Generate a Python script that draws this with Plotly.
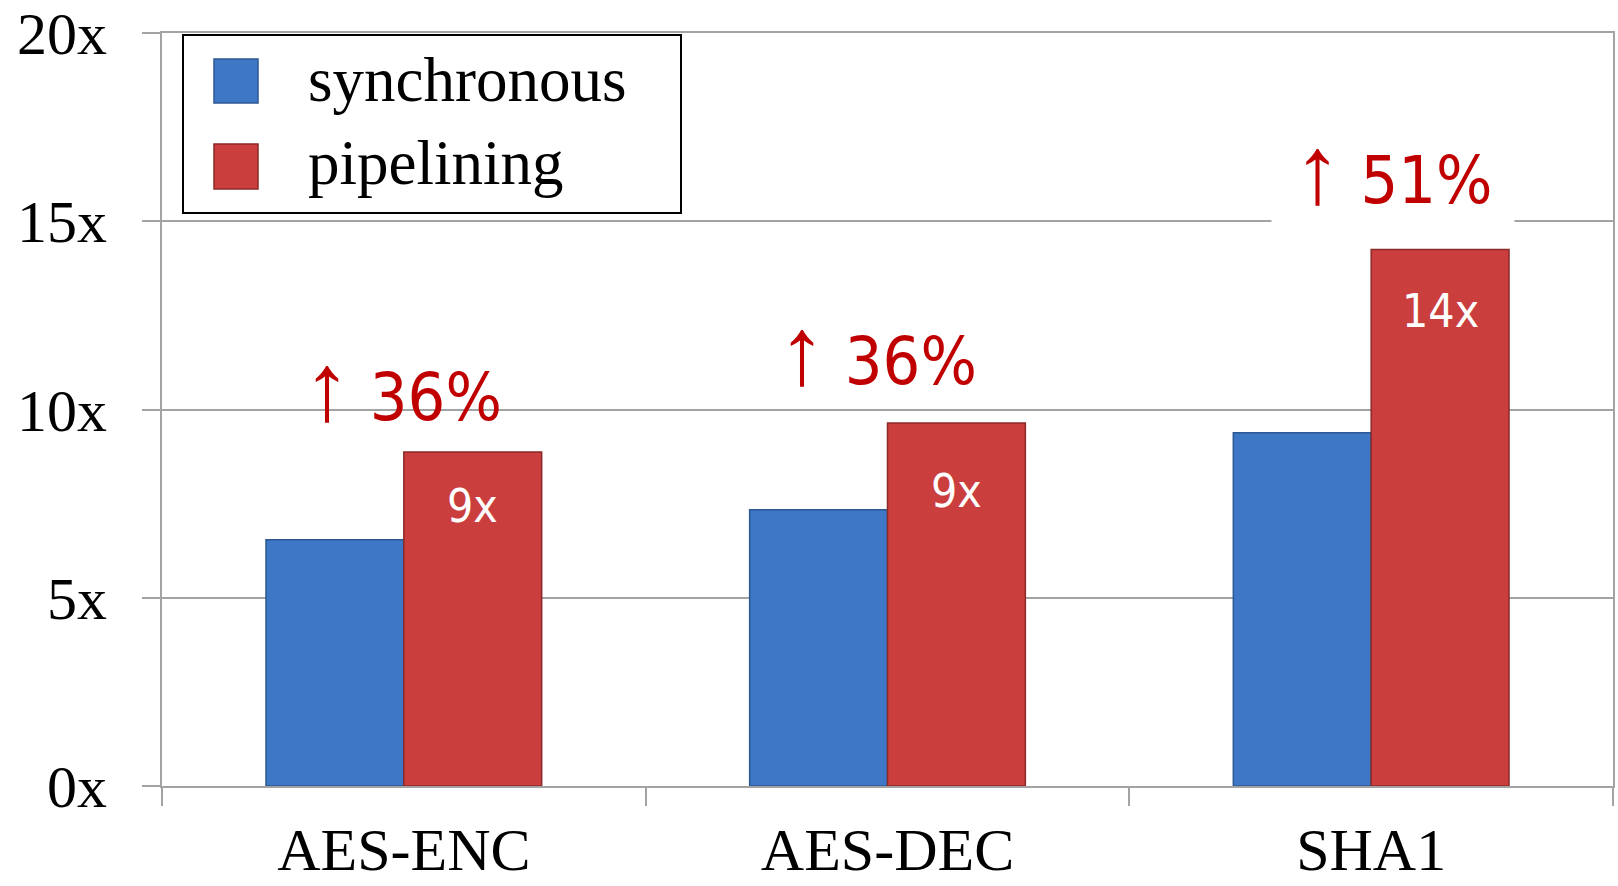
import plotly.graph_objects as go

# ---- data ----
categories = ["AES-ENC", "AES-DEC", "SHA1"]
synchronous = [6.54, 7.34, 9.38]
pipelining = [8.87, 9.64, 14.25]
bar_labels = ["9x", "9x", "14x"]
bar_label_y = [7.44, 7.84, 12.61]
gain_labels = ["36%", "36%", "51%"]
gain_y = [10.58, 11.53, 16.35]
gain_x_shift = [-0.002, -0.021, 0.045]
y_ticks = [0, 5, 10, 15, 20]
y_tick_text = ["0x", "5x", "10x", "15x", "20x"]
series_names = ["synchronous", "pipelining"]

# ---- style ----
W, H = 1618, 886
ML, MR, MT, MB = 162, 5, 33, 100
PW, PH = W - ML - MR, H - MT - MB
BAR_W = 0.285
BLUE, BLUE_EDGE = "#3D77C5", "#2C5893"
RED, RED_EDGE = "#CA3E3E", "#8C2929"
GRID = "#A3A3A3"
DARKRED = "#C00000"
SERIF = "Liberation Serif, Times New Roman, serif"
SANS = "DejaVu Sans Condensed, DejaVu Sans, sans-serif"


def px_x(p):
    return (p - ML) / PW


def px_y(p):
    return (H - MB - p) / PH


fig = go.Figure()
fig.add_trace(go.Bar(
    x=categories, y=synchronous, name=series_names[0],
    width=BAR_W, offset=-BAR_W,
    marker=dict(color=BLUE, line=dict(color=BLUE_EDGE, width=1.5)),
    showlegend=False,
))
fig.add_trace(go.Bar(
    x=categories, y=pipelining, name=series_names[1],
    width=BAR_W, offset=0,
    marker=dict(color=RED, line=dict(color=RED_EDGE, width=1.5)),
    showlegend=False,
))

annotations = []
for i, (t, yy) in enumerate(zip(bar_labels, bar_label_y)):
    annotations.append(dict(
        x=i + BAR_W / 2, y=yy, xref="x", yref="y", text=t, showarrow=False,
        font=dict(family=SANS, size=46, color="white"),
        xanchor="center", yanchor="middle",
    ))
ARROW = '<span style="font-family:Liberation Serif;font-size:96px">↑</span>'
for i, (t, yy, dx) in enumerate(zip(gain_labels, gain_y, gain_x_shift)):
    a = dict(
        x=i + dx, y=yy, xref="x", yref="y", text=ARROW + " " + t, showarrow=False,
        font=dict(family=SANS, size=66, color=DARKRED),
        xanchor="center", yanchor="middle",
    )
    if i == 2:
        a.update(bgcolor="white", borderpad=6, width=230, height=100)
    annotations.append(a)

# manual legend (large swatches)
shapes = [
    dict(type="rect", xref="paper", yref="paper",
         x0=px_x(183), x1=px_x(681), y0=px_y(213), y1=px_y(35),
         fillcolor="white", line=dict(color="black", width=2), layer="above"),
    dict(type="rect", xref="paper", yref="paper",
         x0=px_x(214), x1=px_x(258), y0=px_y(103), y1=px_y(59),
         fillcolor=BLUE, line=dict(color=BLUE_EDGE, width=1.5), layer="above"),
    dict(type="rect", xref="paper", yref="paper",
         x0=px_x(214), x1=px_x(258), y0=px_y(189), y1=px_y(144),
         fillcolor=RED, line=dict(color=RED_EDGE, width=1.5), layer="above"),
]
for name, cy in zip(series_names, [80, 163]):
    annotations.append(dict(
        x=px_x(306), y=px_y(cy), xref="paper", yref="paper", text=name,
        showarrow=False, xanchor="left", yanchor="middle",
        font=dict(family=SERIF, size=63, color="black"),
    ))

fig.update_layout(
    width=W, height=H,
    margin=dict(l=ML, r=MR, t=MT, b=MB, pad=0, autoexpand=False),
    plot_bgcolor="white", paper_bgcolor="white",
    barmode="overlay",
    showlegend=False,
    annotations=annotations,
    shapes=shapes,
    xaxis=dict(
        type="category", categoryorder="array", categoryarray=categories,
        range=[-0.5, 2.5], tickson="boundaries", ticks="outside", ticklen=18,
        tickcolor=GRID, tickwidth=2, showline=True, linecolor=GRID, linewidth=2,
        mirror=True,
        showgrid=False, tickfont=dict(family=SERIF, size=60, color="black"),
        ticklabelstandoff=10, automargin=False,
    ),
    yaxis=dict(
        range=[0, 20], tickvals=y_ticks, ticktext=y_tick_text,
        showgrid=True, gridcolor=GRID, gridwidth=2, zeroline=False,
        showline=True, linecolor=GRID, linewidth=2, mirror=True,
        ticks="outside", ticklen=18, tickcolor=GRID, tickwidth=2,
        tickfont=dict(family=SERIF, size=60, color="black"),
        ticklabelstandoff=23, automargin=False, ticklabeloverflow="allow",
    ),
)

fig.write_html("out.html")
